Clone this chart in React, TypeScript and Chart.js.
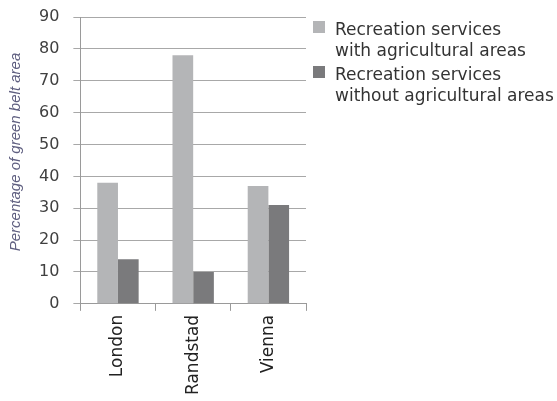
import React, { useEffect, useRef } from "react";
import { Chart, registerables } from "chart.js";

Chart.register(...registerables);

const categories = ["London", "Randstad", "Vienna"];
const withAgri = [38, 78, 37];
const withoutAgri = [14, 10, 31];
const seriesLabels = [
  ["Recreation services", "with agricultural areas"],
  ["Recreation services", "without agricultural areas"],
];
const yTicks = [0, 10, 20, 30, 40, 50, 60, 70, 80, 90];
const yTitle = "Percentage of green belt area";

const legendPlugin = {
  id: "customLegend",
  afterDraw(chart: any) {
    const ctx = chart.ctx;
    ctx.save();
    ctx.font = "17px 'DejaVu Sans'";
    ctx.textBaseline = "alphabetic";
    const x0 = 313;
    const boxSize = 12;
    const lineH = 21;
    let y = 35;
    chart.data.datasets.forEach((ds: any) => {
      const lines: string[] = ds.legendLines;
      ctx.fillStyle = ds.backgroundColor;
      ctx.fillRect(x0, y - 14, boxSize, boxSize);
      ctx.fillStyle = "#333333";
      lines.forEach((ln, i) => {
        ctx.fillText(ln, x0 + 22, y + i * lineH);
      });
      y += lines.length * lineH + 3;
    });
    ctx.restore();
  },
};

const yTitlePlugin = {
  id: "yTitle",
  afterDraw(chart: any) {
    const ctx = chart.ctx;
    ctx.save();
    ctx.translate(16, 152);
    ctx.rotate(-Math.PI / 2);
    ctx.font = "italic 15px 'Liberation Sans'";
    ctx.fillStyle = "#5f5f80";
    ctx.textAlign = "center";
    ctx.textBaseline = "middle";
    ctx.fillText(yTitle, 0, 0);
    ctx.restore();
  },
};

export default function App() {
  const ref = useRef<HTMLCanvasElement>(null);
  useEffect(() => {
    if (!ref.current) return;
    const chart = new Chart(ref.current, {
      type: "bar",
      data: {
        labels: categories,
        datasets: [
          {
            label: seriesLabels[0].join(" "),
            legendLines: seriesLabels[0],
            data: withAgri,
            backgroundColor: "#b4b5b7",
            categoryPercentage: 0.55,
            barPercentage: 1.0,
          } as any,
          {
            label: seriesLabels[1].join(" "),
            legendLines: seriesLabels[1],
            data: withoutAgri,
            backgroundColor: "#7a7a7c",
            categoryPercentage: 0.55,
            barPercentage: 1.0,
          } as any,
        ],
      },
      options: {
        animation: false,
        responsive: false,
        layout: { padding: { left: 25, right: 251, top: 17, bottom: 2 } },
        plugins: {
          legend: { display: false },
          tooltip: { enabled: false },
        },
        scales: {
          x: {
            offset: true,
            afterFit(axis: any) {
              axis.paddingTop = 0;
            },
            grid: {
              offset: true,
              drawOnChartArea: false,
              drawTicks: true,
              tickLength: 7,
              color: "#9a9a9a",
            },
            border: { color: "#9a9a9a", width: 1 },
            ticks: {
              minRotation: 90,
              maxRotation: 90,
              color: "#222222",
              padding: 4,
              font: { family: "'DejaVu Sans'", size: 17 },
            },
          },
          y: {
            min: 0,
            max: 90,
            afterFit(axis: any) {
              axis.paddingTop = 0;
            },
            afterBuildTicks(axis: any) {
              axis.ticks = yTicks.map((v) => ({ value: v }));
            },
            grid: {
              color: "#a8a8a8",
              tickLength: 7,
            },
            border: { color: "#9a9a9a", width: 1 },
            ticks: {
              color: "#404040",
              padding: 14,
              font: { family: "'DejaVu Sans'", size: 16 },
            },
          },
        },
      },
      plugins: [legendPlugin, yTitlePlugin],
    });
    return () => chart.destroy();
  }, []);
  return (
    <div style={{ position: "fixed", left: 0, top: 0, width: 557, height: 401, background: "#fff" }}>
      <canvas ref={ref} width={557} height={401} style={{ width: 557, height: 401 }} />
    </div>
  );
}
